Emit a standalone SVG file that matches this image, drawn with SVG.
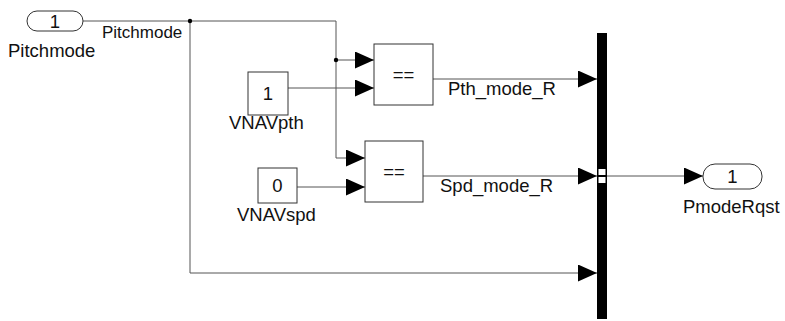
<svg xmlns="http://www.w3.org/2000/svg" width="785" height="321" viewBox="0 0 785 321">
  <style>
    .blk { fill: #fff; stroke: #333; stroke-width: 1; }
    .ln { fill: none; stroke: #555; stroke-width: 1; }
    .t { font-family: "Liberation Sans", Arial, sans-serif; font-size: 18.5px; fill: #111; }
    .s { font-size: 17px; }
    .c { text-anchor: middle; }
  </style>
  <defs>
    <marker id="arr" markerUnits="userSpaceOnUse" markerWidth="20" markerHeight="18" refX="19" refY="8.5" orient="auto">
      <path d="M0,0 L19,8.5 L0,17 Z" fill="#000"/>
    </marker>
  </defs>
  <rect width="785" height="321" fill="#fff"/>

  <g id="connectors">
    <path class="ln" d="M83,21 H336 V158 H365" marker-end="url(#arr)"/>
    <path class="ln" d="M190,21 V273 H597" marker-end="url(#arr)"/>
    <path class="ln" d="M336,60 H374" marker-end="url(#arr)"/>
    <path class="ln" d="M288,88 H374" marker-end="url(#arr)"/>
    <path class="ln" d="M297,187 H365" marker-end="url(#arr)"/>
    <path class="ln" d="M433,79 H597" marker-end="url(#arr)"/>
    <path class="ln" d="M423,176 H597" marker-end="url(#arr)"/>
    <path class="ln" d="M607,176 H703" marker-end="url(#arr)"/>
    <circle cx="190" cy="21" r="2.2" fill="#000"/>
    <circle cx="336" cy="60" r="2.2" fill="#000"/>
    <text class="t s" x="102" y="38">Pitchmode</text>
    <text class="t" x="448" y="95">Pth_mode_R</text>
    <text class="t" x="440" y="192">Spd_mode_R</text>
  </g>

  <g id="inport-pitchmode">
    <rect class="blk" x="27" y="11" width="56" height="20" rx="10" ry="10"/>
    <text class="t c" x="55" y="28">1</text>
    <text class="t" x="8" y="57">Pitchmode</text>
  </g>

  <g id="const-vnavpth">
    <rect class="blk" x="248" y="72" width="40" height="43"/>
    <text class="t c" x="268" y="100">1</text>
    <text class="t" x="229" y="129">VNAVpth</text>
  </g>

  <g id="const-vnavspd">
    <rect class="blk" x="258" y="168" width="39" height="35"/>
    <text class="t c" x="277.5" y="192">0</text>
    <text class="t" x="237" y="221">VNAVspd</text>
  </g>

  <g id="eq-pth">
    <rect class="blk" x="374" y="44" width="59" height="61"/>
    <text class="t c" x="403.5" y="81">==</text>
  </g>

  <g id="eq-spd">
    <rect class="blk" x="365" y="141" width="58" height="61"/>
    <text class="t c" x="394" y="178">==</text>
  </g>

  <g id="mux">
    <rect x="597" y="33" width="10" height="286" fill="#000"/>
    <rect x="598.5" y="169" width="7" height="6" fill="#fff"/>
    <rect x="598.5" y="177" width="7" height="6" fill="#fff"/>
  </g>

  <g id="outport-pmoderqst">
    <rect class="blk" x="703" y="164" width="59" height="25" rx="12" ry="12"/>
    <text class="t c" x="732.5" y="183">1</text>
    <text class="t" x="683" y="213">PmodeRqst</text>
  </g>
</svg>
